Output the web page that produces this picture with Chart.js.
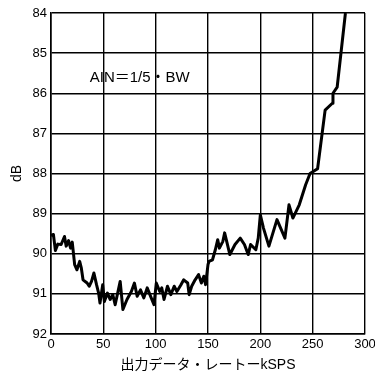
<!DOCTYPE html>
<html>
<head>
<meta charset="utf-8">
<script src="https://cdn.jsdelivr.net/npm/chart.js@4"></script>
<style>
  html, body { margin: 0; padding: 0; background: #fff; }
  canvas { display: block; }
</style>
</head>
<body>
<canvas id="c" width="375" height="378"></canvas>
<script>
// Output data rate (kSPS)
const rateKsps = [
  0, 2.3, 4.2, 6.5, 9.7, 12.9, 14.5, 16.8, 18.7, 20.3,
  22.6, 24.8, 27.4, 29, 30.6, 34.5, 36.5, 38.7, 41, 43.5,
  45.5, 46.8, 49.4, 51, 53.9, 56.5, 59, 61.3, 66.1, 68.7,
  72.6, 76.8, 79.7, 82.3, 85.5, 88.7, 91.9, 94.5, 98.4, 100.6,
  103.9, 105.8, 108, 111.3, 114.5, 117.7, 120.3, 124.2, 126.8, 130.6,
  132, 134.4, 137.7, 141, 143.7, 146, 147.7, 150, 151, 154.3,
  157, 159.3, 160.9, 164.2, 165.9, 168.2, 170.9, 175.8, 180.8, 184.8,
  188.4, 190.7, 195.7, 198, 200, 203, 208.2, 215.9, 223.5, 227.4,
  231.1, 237.2, 243.3, 247.5, 254.7, 261.9, 268.8, 269.4, 273.4, 281.3
];
// Measured level (dB)
const levelDb = [
  89.54, 89.52, 89.92, 89.76, 89.77, 89.57, 89.81, 89.67, 89.86, 89.71,
  90.27, 90.40, 90.19, 90.36, 90.65, 90.73, 90.81, 90.69, 90.48, 90.77,
  90.98, 91.23, 90.77, 91.19, 90.98, 91.14, 91.02, 91.27, 90.69, 91.39,
  91.14, 90.94, 90.73, 91.06, 90.90, 91.10, 90.85, 91.02, 91.27, 90.73,
  90.94, 90.85, 91.14, 90.81, 91.02, 90.81, 90.94, 90.77, 90.65, 90.73,
  91.02, 90.81, 90.65, 90.52, 90.73, 90.56, 90.77, 90.27, 90.19, 90.15,
  89.90, 89.65, 89.86, 89.69, 89.48, 89.73, 90.02, 89.77, 89.61, 89.77,
  90.02, 89.77, 89.90, 89.61, 89.03, 89.36, 89.81, 89.15, 89.61, 88.78,
  89.11, 88.78, 88.28, 88.00, 87.88, 86.42, 86.25, 86.00, 85.85, 84.00
];
const xTicks = [0, 50, 100, 150, 200, 250, 300];
const yTicks = [84, 85, 86, 87, 88, 89, 90, 91, 92];
const xTitle = '出力データ・レートーkSPS';
const yTitle = 'dB';
const noteText = 'AIN＝1/5・BW';

const FONT = "'Liberation Sans', Arial, 'Noto Sans CJK JP', sans-serif";

const points = rateKsps.map((x, i) => ({ x: x, y: levelDb[i] }));

// Condition note inside the plot
const notePlugin = {
  id: 'note',
  afterDraw(chart) {
    const { ctx, scales } = chart;
    ctx.save();
    ctx.font = "15px " + FONT;
    ctx.fillStyle = '#000';
    ctx.textAlign = 'left';
    ctx.textBaseline = 'middle';
    ctx.fillText(noteText, scales.x.getPixelForValue(37), scales.y.getPixelForValue(85.62));
    ctx.restore();
  }
};

new Chart(document.getElementById('c'), {
  type: 'line',
  data: {
    datasets: [{
      data: points,
      borderColor: '#000',
      borderWidth: 3,
      pointRadius: 0,
      tension: 0,
      fill: false,
      borderJoinStyle: 'round'
    }]
  },
  options: {
    responsive: false,
    animation: false,
    devicePixelRatio: 1,
    layout: { padding: { left: 0, right: 10, top: 13, bottom: 0 } },
    plugins: { legend: { display: false }, tooltip: { enabled: false } },
    scales: {
      x: {
        type: 'linear',
        min: 0, max: 300,
        afterBuildTicks(s) { s.ticks = xTicks.map(v => ({ value: v })); },
        afterFit(s) { s.height = 44; s.paddingRight = 0; s.paddingLeft = 0; },
        grid: { color: '#000', lineWidth: 1.4, drawTicks: false },
        border: { color: '#000', width: 1.6 },
        ticks: { color: '#000', font: { family: FONT, size: 13 }, padding: 3, maxRotation: 0 },
        title: { display: true, text: xTitle, color: '#000', font: { family: FONT, size: 14 }, padding: { top: 0, bottom: 4 } }
      },
      y: {
        min: 84, max: 92,
        reverse: true,
        afterBuildTicks(s) { s.ticks = yTicks.map(v => ({ value: v })); },
        afterFit(s) { s.width = 51; },
        grid: { color: '#000', lineWidth: 1.4, drawTicks: false },
        border: { color: '#000', width: 1.6 },
        ticks: { color: '#000', font: { family: FONT, size: 13 }, padding: 4 },
        title: { display: true, text: yTitle, color: '#000', font: { family: FONT, size: 14 }, padding: { top: 9, bottom: 0 } }
      }
    }
  },
  plugins: [notePlugin]
});
</script>
</body>
</html>
